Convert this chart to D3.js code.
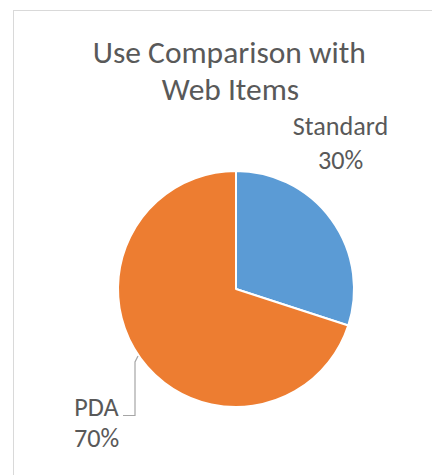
<!DOCTYPE html>
<html><head><meta charset="utf-8">
<script src="https://cdn.jsdelivr.net/npm/d3@7"></script>
<style>html,body{margin:0;padding:0;background:#fff;}svg{display:block;}</style>
</head><body>
<script>
// ---- data ----
const categories = ["Standard", "PDA"];
const values = [30, 70];
const colors = ["#5B9BD5", "#ED7D31"];
const titleLines = ["Use Comparison with", "Web Items"];

// ---- layout ----
const W = 432, H = 475;
const FONT = "Carlito, Calibri, 'Open Sans', sans-serif";
const textColor = "#595959";
const cx = 236, cy = 289, R = 118;

const svg = d3.select("body").append("svg").attr("width", W).attr("height", H);
svg.append("rect").attr("width", W).attr("height", H).attr("fill", "#fff");
svg.append("rect").attr("x", 13.5).attr("y", 10.5).attr("width", 600).attr("height", 600)
  .attr("fill", "#fff").attr("stroke", "#d9d9d9").attr("stroke-width", 1);

function fitSize(text, targetW, base) {
  const t = svg.append("text").attr("font-family", FONT).attr("font-size", base).text(text);
  const w = t.node().getComputedTextLength();
  t.remove();
  return base * targetW / w;
}

// title
const titleFs = fitSize(titleLines[0], 273, 30);
const titleSpec = [{x: 229.3, y: 63}, {x: 230.5, y: 100}];
titleLines.forEach((t, i) => {
  svg.append("text").attr("x", titleSpec[i].x).attr("y", titleSpec[i].y)
    .attr("text-anchor", "middle").attr("font-family", FONT).attr("font-size", titleFs.toFixed(2))
    .attr("fill", textColor).text(t);
});

// pie
const pie = d3.pie().sort(null).value(d => d.v);
const arcs = pie(categories.map((c, i) => ({c, v: values[i], color: colors[i]})));
const arc = d3.arc().innerRadius(0).outerRadius(R);
const g = svg.append("g").attr("transform", `translate(${cx},${cy})`);
g.selectAll("path").data(arcs).join("path")
  .attr("d", arc).attr("fill", d => d.data.color)
  .attr("stroke", "#fff").attr("stroke-width", 2).attr("stroke-linejoin", "round");

// leader line for PDA
g.append("path")
  .attr("d", d3.line()([[138 - cx, 356 - cy], [135 - cx, 362 - cy], [135 - cx, 415.5 - cy], [123 - cx, 415.5 - cy]]))
  .attr("fill", "none").attr("stroke", "#a6a6a6").attr("stroke-width", 1.2);

// data labels
const labelFs = fitSize("Standard", 95.6, 24);
const labelSpec = [
  {x: 340.5, y1: 135, y2: 169},
  {x: 96.5, y1: 416, y2: 447}
];
const total = d3.sum(values);
arcs.forEach((d, i) => {
  const sp = labelSpec[i];
  svg.append("text").attr("x", sp.x).attr("y", sp.y1).attr("text-anchor", "middle")
    .attr("font-family", FONT).attr("font-size", labelFs.toFixed(2)).attr("fill", textColor).text(d.data.c);
  svg.append("text").attr("x", sp.x).attr("y", sp.y2).attr("text-anchor", "middle")
    .attr("font-family", FONT).attr("font-size", labelFs.toFixed(2)).attr("fill", textColor)
    .text(Math.round(d.data.v / total * 100) + "%");
});
</script>
</body></html>
